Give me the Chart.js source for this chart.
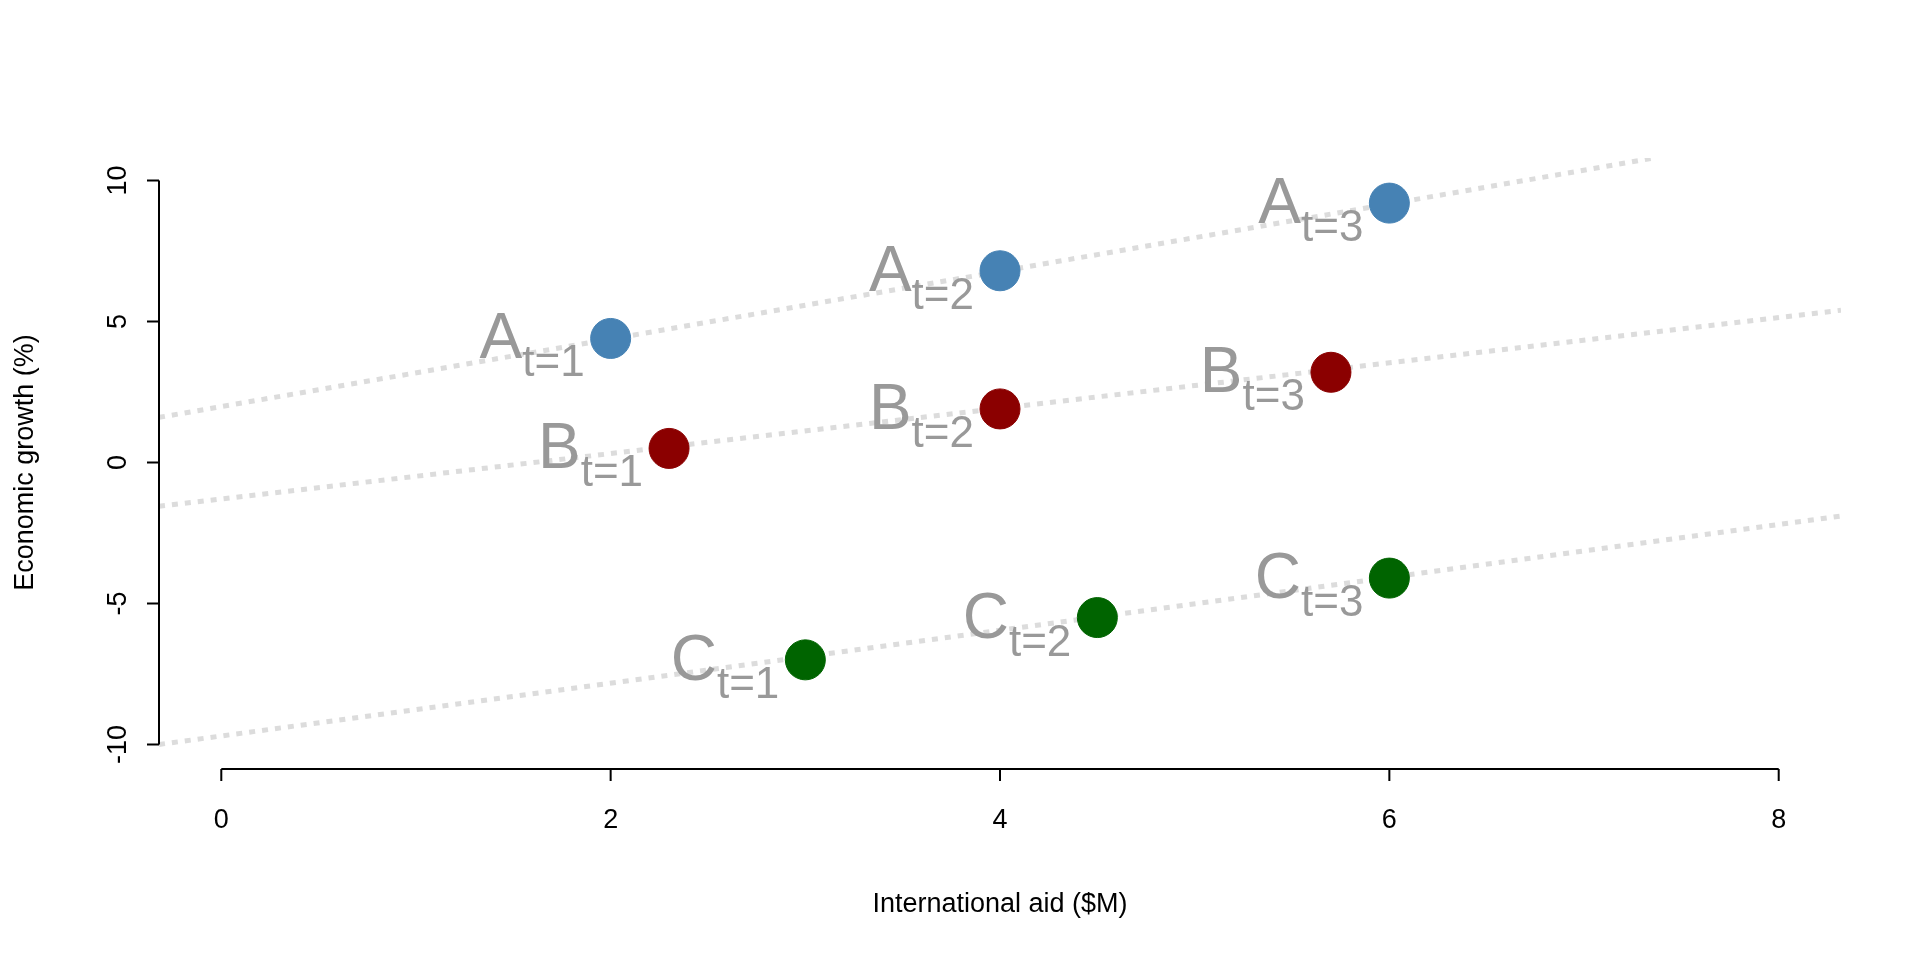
<!DOCTYPE html>
<html>
<head>
<meta charset="utf-8">
<script src="https://cdn.jsdelivr.net/npm/chart.js@4/dist/chart.umd.min.js"></script>
<style>
  html, body { margin: 0; padding: 0; background: #fff; }
  #wrap { width: 1920px; height: 960px; }
</style>
</head>
<body>
<div id="wrap"><canvas id="c" width="1920" height="960"></canvas></div>
<script>
// Puntos por país (x = ayuda internacional, y = crecimiento)
const aidA = [2, 4, 6];
const growthA = [4.4, 6.8, 9.2];
const aidB = [2.3, 4, 5.7];
const growthB = [0.5, 1.9, 3.2];
const aidC = [3, 4.5, 6];
const growthC = [-7, -5.5, -4.1];
const periods = ['t=1', 't=2', 't=3'];

// Líneas de tendencia punteadas (extremos)
const trendA = [{ x: -0.32, y: 1.6 }, { x: 7.36, y: 10.8 }];
const trendB = [{ x: -0.32, y: -1.55 }, { x: 8.32, y: 5.4 }];
const trendC = [{ x: -0.32, y: -10 }, { x: 8.32, y: -1.9 }];

const xTicks = [0, 2, 4, 6, 8];
const yTicks = [-10, -5, 0, 5, 10];

const colA = '#4682b4';
const colB = '#8b0000';
const colC = '#006400';

const pts = (xs, ys) => xs.map((x, i) => ({ x: x, y: ys[i] }));

function trend(data) {
  return {
    type: 'line', data: data, borderColor: '#dcdcdc', borderWidth: 5,
    borderDash: [6, 7], pointRadius: 0, fill: false, order: 2
  };
}
function points(xs, ys, col, name) {
  return {
    type: 'scatter', data: pts(xs, ys), backgroundColor: col, borderColor: col,
    pointRadius: 20, pointHoverRadius: 20, order: 1, name: name
  };
}

const font = '"Liberation Sans", Arial, sans-serif';

// Ejes estilo R y etiquetas con subíndice
const rAxes = {
  id: 'rAxes',
  afterDatasetsDraw(chart) {
    const ctx = chart.ctx;
    const xs = chart.scales.x, ys = chart.scales.y;
    const area = chart.chartArea;
    ctx.save();
    // etiquetas
    chart.data.datasets.forEach(ds => {
      if (!ds.name) return;
      ds.data.forEach((p, i) => {
        const px = xs.getPixelForValue(p.x) - 26;
        const py = ys.getPixelForValue(p.y);
        ctx.fillStyle = '#999999';
        ctx.textBaseline = 'alphabetic';
        ctx.textAlign = 'left';
        const sub = periods[i];
        ctx.font = '44px ' + font;
        const wSub = ctx.measureText(sub).width;
        ctx.font = '64px ' + font;
        const wMain = ctx.measureText(ds.name).width;
        const x0 = px - wSub - wMain;
        ctx.fillText(ds.name, x0, py + 20);
        ctx.font = '44px ' + font;
        ctx.fillText(sub, x0 + wMain, py + 38);
      });
    });
    ctx.strokeStyle = '#000';
    ctx.fillStyle = '#000';
    ctx.lineWidth = 2;
    ctx.font = '27px ' + font;
    // eje x
    const yAx = area.bottom + 2;
    ctx.beginPath();
    ctx.moveTo(xs.getPixelForValue(xTicks[0]), yAx);
    ctx.lineTo(xs.getPixelForValue(xTicks[xTicks.length - 1]), yAx);
    xTicks.forEach(t => {
      const px = xs.getPixelForValue(t);
      ctx.moveTo(px, yAx); ctx.lineTo(px, yAx + 12);
    });
    ctx.stroke();
    ctx.textAlign = 'center'; ctx.textBaseline = 'top';
    xTicks.forEach(t => ctx.fillText(String(t), xs.getPixelForValue(t), yAx + 38));
    ctx.fillText('International aid ($M)', (area.left + area.right) / 2, yAx + 122);
    // eje y
    const xAx = area.left;
    ctx.beginPath();
    ctx.moveTo(xAx, ys.getPixelForValue(yTicks[0]));
    ctx.lineTo(xAx, ys.getPixelForValue(yTicks[yTicks.length - 1]));
    yTicks.forEach(t => {
      const py = ys.getPixelForValue(t);
      ctx.moveTo(xAx, py); ctx.lineTo(xAx - 12, py);
    });
    ctx.stroke();
    yTicks.forEach(t => {
      ctx.save();
      ctx.translate(xAx - 40, ys.getPixelForValue(t));
      ctx.rotate(-Math.PI / 2);
      ctx.textAlign = 'center'; ctx.textBaseline = 'middle';
      ctx.fillText(String(t), 0, 0);
      ctx.restore();
    });
    ctx.save();
    ctx.translate(xAx - 133, (area.top + area.bottom) / 2);
    ctx.rotate(-Math.PI / 2);
    ctx.textAlign = 'center'; ctx.textBaseline = 'middle';
    ctx.fillText('Economic growth (%)', 0, 0);
    ctx.restore();
    ctx.restore();
  }
};

new Chart(document.getElementById('c'), {
  data: {
    datasets: [
      trend(trendA), trend(trendB), trend(trendC),
      points(aidA, growthA, colA, 'A'),
      points(aidB, growthB, colB, 'B'),
      points(aidC, growthC, colC, 'C')
    ]
  },
  options: {
    responsive: false,
    animation: false,
    layout: { padding: { left: 159, right: 79, top: 158, bottom: 193 } },
    scales: {
      x: { type: 'linear', min: -0.32, max: 8.32, display: false },
      y: { type: 'linear', min: -10.8, max: 10.8, display: false }
    },
    plugins: { legend: { display: false }, tooltip: { enabled: false } }
  },
  plugins: [rAxes]
});
</script>
</body>
</html>
